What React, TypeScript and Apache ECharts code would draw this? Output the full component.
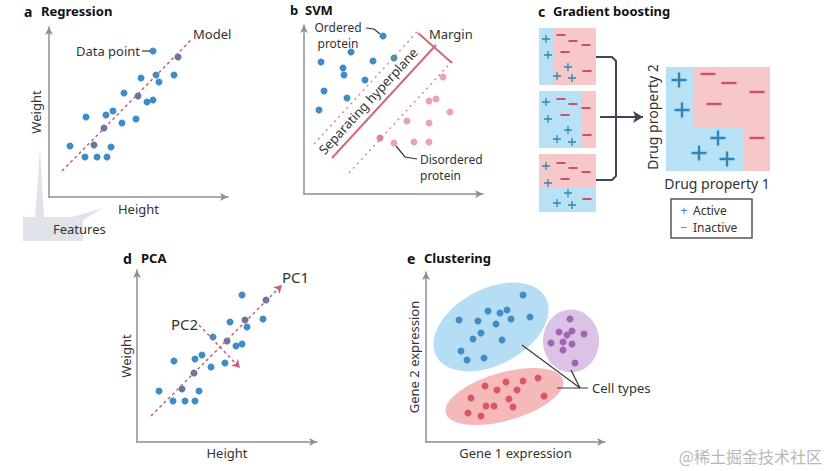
import React, { useEffect, useRef } from "react";
import * as echarts from "echarts";

// ---------- a  Regression (axis units) ----------
const regressionPoints = [
  [104, 146], [92, 119], [107, 122], [125, 122], [110, 115], [75, 104], [98, 95], [104, 97],
  [64, 86], [57, 82], [37, 80], [87, 78], [73, 74], [21, 51], [62, 50], [36, 40], [48, 40], [58, 40],
];
const regressionPointsOnModel = [[129, 140], [89, 101], [55, 69], [45, 52]];
const regressionModel = [[13, 26], [143, 158]];

// ---------- b  SVM ----------
const orderedProtein = [
  [79, 158], [47, 142], [17, 132], [69, 133], [39, 126], [40, 119], [61, 114], [20, 103], [43, 96], [15, 84],
];
const orderedOnMargin = [[90, 136]];
const disorderedProtein = [
  [139, 117], [132, 95], [125, 93], [146, 82], [103, 73], [125, 71], [90, 51], [110, 52], [125, 52],
];
const disorderedOnMargin = [[76, 56]];
const hyperplane = [[28, 36], [132, 149]];
const marginUpper = [[10, 50], [113, 162]];
const marginLower = [[45, 21], [151, 136]];
const marginBar = [[114, 161], [148, 131]];

// ---------- c  Gradient boosting ----------
const smallActive = [
  [16, 19], [18, 35], [38, 47], [27, 56], [42, 58],
  [16, 82], [18, 99], [38, 110], [27, 119], [42, 122],
  [16, 146], [18, 163], [38, 173], [27, 183], [42, 185],
];
const smallInactive = [
  [31, 15], [43, 21], [56, 25], [35, 32], [57, 51],
  [31, 79], [43, 84], [56, 88], [35, 95], [57, 115],
  [31, 143], [43, 148], [56, 152], [35, 159], [57, 179],
];
const bigActive = [[149, 60], [152, 90], [188, 118], [169, 133], [197, 139]];
const bigInactive = [[178, 54], [199, 63], [227, 72], [184, 84], [227, 118]];
const activeRegions = [
  [9, 8, 23, 65], [9, 71, 51, 128], [9, 168, 66, 192], [136, 47, 163, 151], [136, 108, 214, 151],
];
const inactiveRegions = [
  [23, 8, 66, 65], [51, 71, 66, 128], [9, 134, 66, 168], [163, 47, 240, 108], [214, 108, 240, 151],
];
const ensembleBracket = [[66, 37], [82, 37], [86, 41], [86, 156], [82, 160], [66, 160]];
const ensembleArrow = [[70, 97], [113, 97]];

// ---------- d  PCA ----------
const pcaPoints = [
  [105, 147], [93, 120], [126, 123], [110, 115], [76, 105], [99, 96], [105, 98], [65, 87], [58, 83],
  [37, 81], [88, 79], [74, 75], [22, 51], [62, 51], [36, 41], [48, 41], [58, 41],
];
const pcaPointsOnAxis = [[129, 142], [108, 122], [90, 101], [57, 69], [45, 53]];
const pc1 = [[14, 26], [145, 157]];
const pc2 = [[62, 117], [103, 74]];

// ---------- e  Clustering ----------
const clusterBlue = [
  [97, 147], [62, 131], [74, 129], [81, 132], [33, 122], [52, 121], [104, 125], [85, 123],
  [70, 118], [55, 109], [47, 103], [76, 102], [35, 91], [58, 84], [41, 82],
];
const clusterPurple = [
  [144, 123], [133, 110], [146, 111], [141, 107], [158, 108], [125, 99], [137, 100], [146, 98], [137, 92], [149, 79],
];
const clusterRed = [
  [112, 64], [97, 61], [80, 60], [59, 56], [71, 52], [91, 52], [118, 46], [45, 44], [83, 43],
  [60, 36], [68, 36], [87, 35], [42, 29], [55, 26],
];
// cx, cy, rx, ry, angle(deg)
const clusterEllipses = [[65, 115, 62, 38, 28], [145, 101, 28, 31.5, 0], [78.5, 45.5, 61, 24, 16]];
const cellTypeLeaders = [
  [[96, 97], [154, 54]],
  [[145, 72], [154, 54]],
  [[131, 54], [162, 54]],
];

const FONT = '"Noto Sans", "Open Sans", sans-serif';
const TEXT = "#333333";
const AXIS = "#8b9097";
const BLUE = "#3f8cc7";
const BLUE_ON_LINE = "#60799f";
const PINK = "#eba2b5";
const PINK_ON_LINE = "#d9849b";
const RED_LINE = "#c9607a";
const ACTIVE_BG = "#b8e1f5";
const INACTIVE_BG = "#f7c8c9";
const PLUS_C = "#2d86b5";
const MINUS_C = "#cf4f68";
const ELLIPSE_COLORS = ["#b5def5", "#dcc2e5", "#f5b9ba"];

const PLUS = "path://M4.2,0H5.8V4.2H10V5.8H5.8V10H4.2V5.8H0V4.2H4.2Z";
const MINUS = "path://M0,0H10V2H0Z";

function shownAxis(gi: number, max: number, name: string, isY: boolean, gap: number) {
  return {
    type: "value",
    gridIndex: gi,
    min: 0,
    max,
    name,
    nameLocation: "middle",
    nameGap: gap,
    nameRotate: isY ? 90 : 0,
    nameTextStyle: { color: TEXT, fontSize: 13, fontFamily: FONT },
    axisLine: {
      show: true,
      onZero: false,
      symbol: ["none", "arrow"],
      symbolSize: [6, 8],
      lineStyle: { color: AXIS, width: 1.5 },
    },
    axisTick: { show: false },
    axisLabel: { show: false },
    splitLine: { show: false },
  };
}
function hiddenAxis(gi: number, max: number, inverse: boolean) {
  return {
    type: "value",
    gridIndex: gi,
    min: 0,
    max,
    inverse,
    show: false,
    splitLine: { show: false },
  };
}
function seg(gi: number, pts: number[][], color: string, width: number, type: any, z = 3) {
  return {
    type: "line",
    xAxisIndex: gi,
    yAxisIndex: gi,
    data: pts,
    symbol: "none",
    showSymbol: false,
    silent: true,
    z,
    lineStyle: { color, width, type },
  };
}
function dots(gi: number, pts: number[][], color: string, size: any = 7, symbol = "circle", z = 4) {
  return {
    type: "scatter",
    xAxisIndex: gi,
    yAxisIndex: gi,
    data: pts,
    symbol,
    symbolSize: size,
    silent: true,
    z,
    itemStyle: { color, opacity: 1 },
  };
}

function txt(x: number, y: number, text: string, opts: any = {}) {
  const {
    rotation = 0,
    align = "left",
    size = 13,
    weight = "normal",
    color = TEXT,
    family = FONT,
    lineHeight = Math.round(size * 1.08),
  } = opts;
  return {
    type: "text",
    x,
    y,
    rotation,
    z: 50,
    style: {
      text,
      align,
      verticalAlign: "middle",
      fontSize: size,
      fontWeight: weight,
      fontFamily: family,
      lineHeight,
      fill: color,
    },
  };
}

export default function App() {
  const ref = useRef<HTMLDivElement>(null);
  useEffect(() => {
    if (!ref.current) return;
    const chart = echarts.init(ref.current, undefined, { renderer: "svg" });

    const regionData = (regions: number[][], color: string) =>
      regions.map((r) => [
        { coord: [r[0], r[1]], itemStyle: { color, opacity: 1 } },
        { coord: [r[2], r[3]] },
      ]);

    const option: any = {
      animation: false,
      backgroundColor: "#ffffff",
      grid: [
        { left: 49, top: 27, width: 179, height: 170 },
        { left: 304, top: 25, width: 179, height: 169 },
        { left: 530, top: 20, width: 260, height: 230 },
        { left: 137, top: 270, width: 180, height: 172 },
        { left: 426, top: 272, width: 179, height: 170 },
      ],
      xAxis: [
        shownAxis(0, 179, "Height", false, 5),
        shownAxis(1, 179, "", false, 5),
        hiddenAxis(2, 260, false),
        shownAxis(3, 180, "Height", false, 4),
        shownAxis(4, 179, "Gene 1 expression", false, 4),
      ],
      yAxis: [
        shownAxis(0, 170, "Weight", true, 7),
        shownAxis(1, 169, "", true, 7),
        hiddenAxis(2, 230, true),
        shownAxis(3, 172, "Weight", true, 5),
        shownAxis(4, 170, "Gene 2 expression", true, 6),
      ],
      series: [
        // a Regression
        {
          ...dots(0, regressionPoints, BLUE),
          markLine: {
            silent: true,
            symbol: ["none", "none"],
            label: { show: false },
            lineStyle: { color: RED_LINE, width: 1.5, type: [3, 3] },
            data: [[{ coord: regressionModel[0] }, { coord: regressionModel[1] }]],
          },
        },
        dots(0, regressionPointsOnModel, BLUE_ON_LINE),
        // b SVM
        seg(1, marginUpper, "#d9869b", 1.5, [2, 4]),
        seg(1, marginLower, "#d9869b", 1.5, [2, 4]),
        seg(1, hyperplane, "#d0687f", 2, "solid"),
        seg(1, marginBar, "#cc6981", 2, "solid"),
        dots(1, orderedProtein, BLUE),
        dots(1, orderedOnMargin, "#4f8fae"),
        dots(1, disorderedProtein, PINK),
        dots(1, disorderedOnMargin, PINK_ON_LINE),
        // c Gradient boosting
        {
          ...dots(2, smallActive, PLUS_C, 8, PLUS, 5),
          markArea: {
            silent: true,
            data: [...regionData(activeRegions, ACTIVE_BG), ...regionData(inactiveRegions, INACTIVE_BG)],
          },
        },
        dots(2, smallInactive, MINUS_C, [9, 2], MINUS, 5),
        dots(2, bigActive, PLUS_C, 15, PLUS, 5),
        dots(2, bigInactive, MINUS_C, [15, 2.4], MINUS, 5),
        {
          ...seg(2, ensembleBracket, "#3c4756", 2, "solid"),
          markLine: {
            silent: true,
            symbol: ["none", "arrow"],
            symbolSize: [9, 10],
            label: { show: false },
            lineStyle: { color: "#3c4756", width: 2, type: "solid" },
            data: [[{ coord: ensembleArrow[0] }, { coord: ensembleArrow[1] }]],
          },
        },
        // d PCA
        {
          ...dots(3, pcaPoints, BLUE),
          markLine: {
            silent: true,
            symbol: ["none", "arrow"],
            symbolSize: [7, 8],
            label: { show: false },
            lineStyle: { color: RED_LINE, width: 1.5, type: [3, 3] },
            data: [
              [{ coord: pc1[0] }, { coord: pc1[1] }],
              [{ coord: pc2[0] }, { coord: pc2[1] }],
            ],
          },
        },
        dots(3, pcaPointsOnAxis, BLUE_ON_LINE),
        // e Clustering
        {
          type: "custom",
          xAxisIndex: 4,
          yAxisIndex: 4,
          data: clusterEllipses,
          silent: true,
          z: 1,
          renderItem: (params: any, api: any) => {
            const c = api.coord([api.value(0), api.value(1)]);
            const s = api.size([api.value(2), api.value(3)]);
            return {
              type: "ellipse",
              x: c[0],
              y: c[1],
              rotation: (api.value(4) * Math.PI) / 180,
              shape: { cx: 0, cy: 0, rx: s[0], ry: s[1] },
              style: { fill: ELLIPSE_COLORS[params.dataIndex] },
            };
          },
        },
        ...cellTypeLeaders.map((l) => seg(4, l, "#3a3a3a", 1.2, "solid", 3)),
        dots(4, clusterBlue, "#3f8cc7"),
        dots(4, clusterPurple, "#a066b1"),
        dots(4, clusterRed, "#dc5566"),
      ],
      graphic: [
        // titles
        txt(24, 11, "a", { size: 14, weight: "bold", color: "#111" }),
        txt(41, 11, "Regression", { weight: "bold", color: "#111" }),
        txt(290, 10, "b", { size: 13, weight: "bold", color: "#111" }),
        txt(305, 10, "SVM", { weight: "bold", color: "#111" }),
        txt(538, 11, "c", { size: 14, weight: "bold", color: "#111" }),
        txt(553, 11, "Gradient boosting", { weight: "bold", color: "#111" }),
        txt(123, 258, "d", { size: 14, weight: "bold", color: "#111" }),
        txt(141, 258, "PCA", { weight: "bold", color: "#111" }),
        txt(407, 258, "e", { size: 14, weight: "bold", color: "#111" }),
        txt(424, 258, "Clustering", { weight: "bold", color: "#111" }),
        // a annotations
        txt(140, 51, "Data point", { align: "right" }),
        { type: "line", z: 50, shape: { x1: 142, y1: 51, x2: 150, y2: 51 }, style: { stroke: "#333", lineWidth: 1.2 } },
        txt(193, 34, "Model"),
        {
          type: "polygon",
          z: 0,
          shape: {
            points: [[23, 217], [35, 217], [40, 148], [44, 217], [72, 217], [103, 208], [83, 220], [83, 241], [23, 241]],
          },
          style: { fill: "#e0e4ea" },
        },
        txt(53, 229, "Features"),
        // b annotations
        txt(338, 27, "Ordered", { align: "center", size: 12, lineHeight: 13 }),
        txt(338, 43, "protein", { align: "center", size: 12, lineHeight: 13 }),
        {
          type: "polyline",
          z: 50,
          shape: { points: [[366, 28], [374, 29], [380, 34]] },
          style: { stroke: "#333", lineWidth: 1.2, fill: null },
        },
        txt(429, 34, "Margin"),
        txt(368, 101, "Separating hyperplane", { align: "center", rotation: (47.4 * Math.PI) / 180 }),
        txt(420, 159, "Disordered", { size: 12, lineHeight: 13 }),
        txt(420, 175, "protein", { size: 12, lineHeight: 13 }),
        {
          type: "polyline",
          z: 50,
          shape: { points: [[396, 146], [405, 157], [417, 159]] },
          style: { stroke: "#333", lineWidth: 1.2, fill: null },
        },
        // c annotations
        txt(652, 117, "Drug property 2", { align: "center", size: 14, rotation: Math.PI / 2 }),
        txt(717, 183, "Drug property 1", { align: "center", size: 14 }),
        {
          type: "rect",
          z: 40,
          shape: { x: 671, y: 199, width: 81, height: 39 },
          style: { fill: "#fff", stroke: "#555", lineWidth: 1.5 },
        },
        txt(684, 210, "+", { align: "center", size: 12, lineHeight: 13, color: PLUS_C }),
        txt(693, 210, "Active", { size: 12, lineHeight: 13 }),
        txt(684, 227, "\u2212", { align: "center", size: 12, lineHeight: 13, color: MINUS_C }),
        txt(693, 227, "Inactive", { size: 12, lineHeight: 13 }),
        // d annotations
        txt(282, 277, "PC1", { size: 15 }),
        txt(171, 324, "PC2", { size: 15 }),
        // e annotations
        txt(592, 388, "Cell types"),
        txt(822, 456, "@稀土掘金技术社区", {
          align: "right",
          size: 16,
          color: "#b8b8b8",
          family: '"Noto Sans CJK SC", sans-serif',
        }),
      ],
    };
    chart.setOption(option);
    return () => chart.dispose();
  }, []);
  return <div ref={ref} style={{ position: "absolute", left: 0, top: 0, width: 829, height: 471 }} />;
}
